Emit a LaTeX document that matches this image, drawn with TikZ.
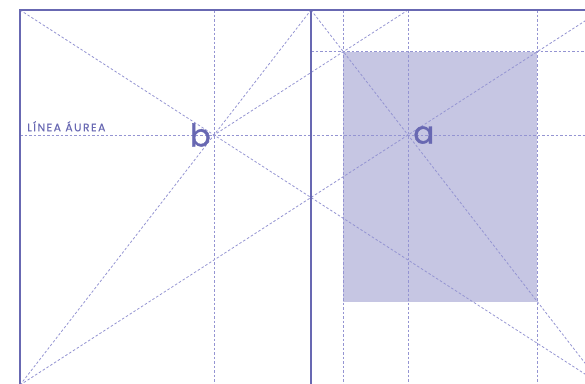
\documentclass[tikz,border=0pt]{standalone}
\usepackage{fontspec}
\setmainfont{Poppins}
\newfontfamily\gruesa{Poppins}[FakeBold=1.2]
\newfontfamily\espaciada{Poppins}[LetterSpace=14, FakeBold=0.5]
\usepackage{tikz}
\usetikzlibrary{positioning}
\definecolor{violeta}{HTML}{6868B2}
\definecolor{guia}{HTML}{9494D2}
\definecolor{caja}{HTML}{C6C6E3}
\tikzstyle{marco} = [draw=violeta, line width=2.2pt]
\tikzstyle{pliegue} = [draw=violeta, line width=1.3pt]
\tikzstyle{guialinea} = [draw=guia, line width=0.8pt, dash pattern=on 2.5pt off 2pt]
\tikzstyle{letra} = [text=violeta, font=\gruesa\fontsize{31}{31}\selectfont, inner sep=0pt]
\tikzstyle{rotulo} = [text=violeta, font=\espaciada\fontsize{10.8}{10.8}\selectfont, inner sep=0pt]

\begin{document}
\begin{tikzpicture}[x=1pt, y=-1pt]
	\useasboundingbox (0,0) rectangle (585,383);
	\clip (0,0) rectangle (585,383);
	% Pliego y pliegue
	\coordinate (TL) at (20,10); % arriba izquierda
	\coordinate (TR) at (602,10); % arriba derecha
	\coordinate (BL) at (20,385); % abajo izquierda
	\coordinate (BR) at (602,385); % abajo derecha
	\coordinate (PS) at (311,10); % pliegue arriba
	\coordinate (PI) at (311,385); % pliegue abajo
	% Puntos a y b
	\coordinate (b) at (intersection of TL--BR and BL--PS);
	\coordinate (a) at (intersection of BL--TR and PS--BR);
	\coordinate (aS) at (a |- TL); % vertical de a
	% Caja de texto
	\coordinate (C1) at (intersection of aS--b and PS--BR); % arriba izquierda
	\coordinate (C1d) at (C1 -| TR);
	\coordinate (C2) at (intersection of BL--TR and C1--C1d); % arriba derecha
	\coordinate (C2i) at (C2 |- BL);
	\coordinate (C3) at (intersection of PS--BR and C2--C2i); % abajo derecha
	\fill[caja] (C1) rectangle (C3);
	% Diagonales
	\draw[guialinea] (TL) -- (BR);
	\draw[guialinea] (BL) -- (TR);
	\draw[guialinea] (BL) -- (PS);
	\draw[guialinea] (PS) -- (BR);
	\draw[guialinea] (aS) -- (b);
	% Horizontales
	\draw[guialinea] (b -| TL) -- (b -| TR); % linea aurea
	\draw[guialinea] (C1 -| PS) -- (C1d);
	% Verticales
	\draw[guialinea] (b |- TL) -- (b |- BL);
	\draw[guialinea] (C1 |- TL) -- (C1 |- BL);
	\draw[guialinea] (aS) -- (a |- BL);
	\draw[guialinea] (C2 |- TL) -- (C2i);
	% Marco
	\draw[pliegue] (PS) -- (PI);
	\draw[marco] (TL) rectangle (BR);
	% Rotulos
	\node (lb) [letra, left=3pt of b] {b};
	\node (la) [letra, right=5pt of a] {a};
	\coordinate (ia) at (b -| TL);
	\node (aurea) [rotulo, above right=3.5pt and 7pt of ia] {LÍNEA ÁUREA};
\end{tikzpicture}
\end{document}
